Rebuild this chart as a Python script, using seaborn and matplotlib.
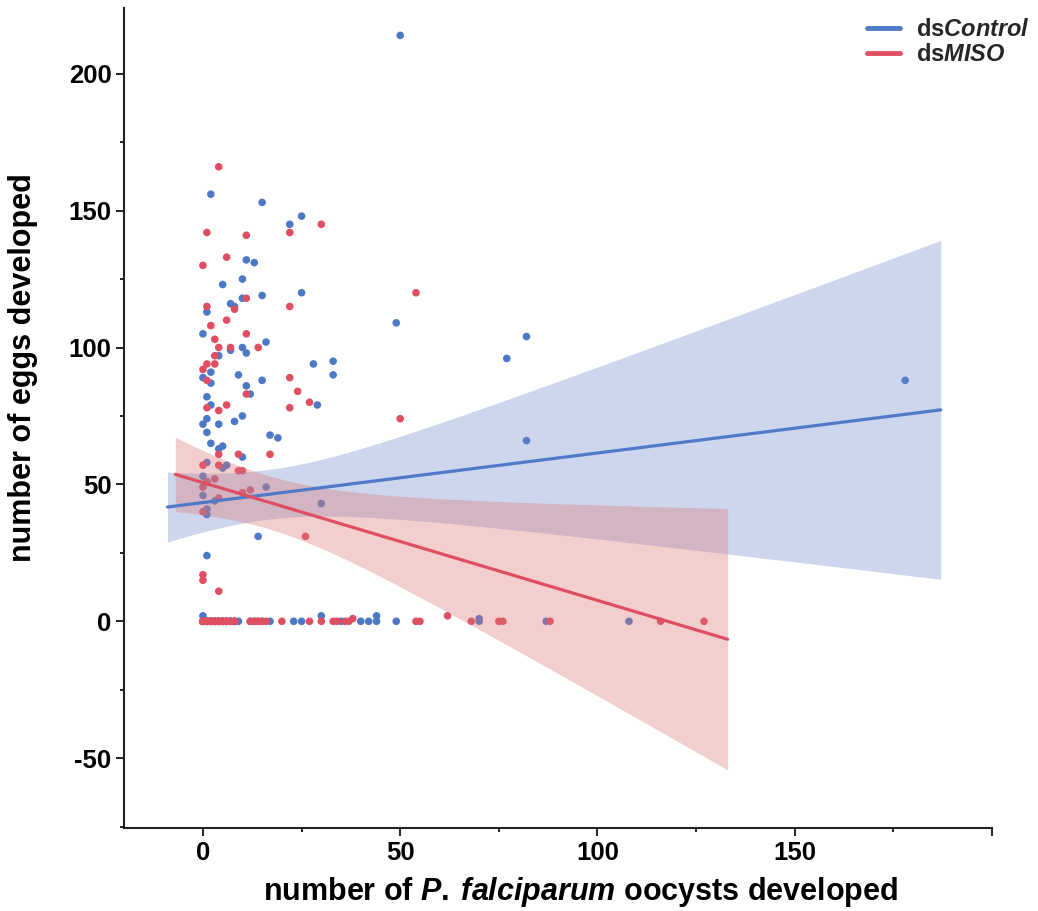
import numpy as np
import pandas as pd
import matplotlib
matplotlib.use("Agg")
import matplotlib.pyplot as plt
import seaborn as sns
from matplotlib.ticker import MultipleLocator
from matplotlib.lines import Line2D

# ---------------- data ----------------
groups = ["dsControl", "dsMISO"]

# dsControl: visible points, then the zero-egg points hidden under the red zero row
ctrl_x = [2, 15, 25, 22, 11, 13, 10, 5, 10, 15, 25, 7, 8, 1,
          0, 16, 7, 10, 11, 4, 2, 0, 2, 9, 15, 11, 12, 1, 2, 1, 0, 4, 8, 10,
          1, 17, 19, 2, 4, 5, 10, 1, 5, 6, 0, 1,
          0, 3, 16, 1, 1, 14, 1, 0,
          50, 49, 28, 33, 33, 29, 30, 82, 77, 82, 178,
          0, 0, 9, 17, 23, 25, 30, 35, 40, 42, 44, 44, 49, 70, 70, 87, 108,
          0, 0, 0, 0, 1, 1, 1, 1, 2, 2, 2, 2, 3, 3, 3, 3, 4, 4, 4, 4,
          5, 5, 5, 5, 6, 6, 6, 6, 7, 7, 7, 7, 8, 8, 8, 8, 12, 13, 14, 15]
ctrl_y = [156, 153, 148, 145, 132, 131, 125, 123, 118, 119, 120, 116, 115, 113,
          105, 102, 99, 100, 98, 97, 91, 89, 87, 90, 88, 86, 83, 82, 79, 74, 72, 72, 73, 75,
          69, 68, 67, 65, 63, 64, 60, 58, 56, 57, 53, 51,
          46, 44, 49, 41, 39, 31, 24, 2,
          214, 109, 94, 95, 90, 79, 43, 104, 96, 66, 88,
          0, 0, 0, 0, 0, 0, 2, 0, 0, 0, 2, 0, 0, 1, 0, 0, 0,
          0, 0, 0, 0, 0, 0, 0, 0, 0, 0, 0, 0, 0, 0, 0, 0, 0, 0, 0, 0,
          0, 0, 0, 0, 0, 0, 0, 0, 0, 0, 0, 0, 0, 0, 0, 0, 0, 0, 0, 0]

miso_x = [4, 22, 1, 11, 6, 0, 11, 1, 22, 8,
          2, 6, 11, 3, 4, 7, 14, 3, 1, 3, 0, 1, 11, 22, 24, 27, 22, 1, 4, 6,
          4, 9, 17, 0, 4, 9, 10, 3,
          0, 4, 10, 12, 0, 26, 0, 0, 4, 1,
          30, 54, 50,
          0, 0, 1, 1, 2, 3, 4, 5, 6, 7, 8, 12, 13, 14, 15, 16,
          20, 27, 30, 33, 34, 36, 37, 38, 54, 55, 62, 68, 75, 76, 88, 116, 127,
          0, 0, 1, 1, 2, 2, 3, 3, 4, 4, 5, 5, 6, 7, 8]
miso_y = [166, 142, 142, 141, 133, 130, 118, 115, 115, 114,
          108, 110, 105, 103, 100, 100, 100, 97, 94, 94, 92, 88, 83, 89, 84, 80, 78, 78, 77, 79,
          61, 61, 61, 57, 57, 55, 55, 52,
          49, 45, 47, 48, 40, 31, 17, 15, 11, 51,
          145, 120, 74,
          0, 0, 0, 0, 0, 0, 0, 0, 0, 0, 0, 0, 0, 0, 0, 0,
          0, 0, 0, 0, 0, 0, 0, 1, 0, 0, 2, 0, 0, 0, 0, 0, 0,
          0, 0, 0, 0, 0, 0, 0, 0, 0, 0, 0, 0, 0, 0, 0]

x_ticks = [0, 50, 100, 150, 200]
x_ticklabels = ["0", "50", "100", "150", ""]
y_ticks = [-50, 0, 50, 100, 150, 200]
y_ticklabels = ["-50", "0", "50", "100", "150", "200"]

# ---------------- style ----------------
point_colors = {"dsControl": "#4D78C6", "dsMISO": "#DE4F62"}
line_colors = {"dsControl": "#5079C8", "dsMISO": "#DE4F61"}
band_colors = {"dsControl": (0.44, 0.54, 0.79, 0.35), "dsMISO": (0.87, 0.46, 0.46, 0.35)}
fit_ranges = {"dsControl": (-9, 187), "dsMISO": (-7, 133)}
T95 = 1.98  # two-sided 95% t quantile for ~100 residual degrees of freedom

sns.set_theme(style="ticks")
plt.rcParams["font.family"] = ["Liberation Sans", "DejaVu Sans"]
plt.rcParams["font.weight"] = "bold"
plt.rcParams["axes.labelweight"] = "bold"
plt.rcParams["axes.unicode_minus"] = False
plt.rcParams["mathtext.fontset"] = "custom"
plt.rcParams["mathtext.rm"] = "Liberation Sans:bold"
plt.rcParams["mathtext.it"] = "Liberation Sans:italic:bold"
plt.rcParams["mathtext.bf"] = "Liberation Sans:bold"

df = pd.DataFrame({
    "x": ctrl_x + miso_x,
    "y": ctrl_y + miso_y,
    "group": [groups[0]] * len(ctrl_x) + [groups[1]] * len(miso_x),
})

fig = plt.figure(figsize=(10.38, 9.11), dpi=100)
ax = fig.add_axes([0.1195, 0.0911, 0.8362, 0.9001])

sns.scatterplot(data=df, x="x", y="y", hue="group", palette=point_colors,
                s=30, linewidth=0, legend=False, ax=ax, zorder=2)

for g in groups:
    sub = df[df.group == g]
    lo, hi = fit_ranges[g]
    ax.set_xlim(lo, hi)
    sns.regplot(data=sub, x="x", y="y", scatter=False, truncate=False, ci=None,
                color=line_colors[g], line_kws=dict(lw=2.3, zorder=4), ax=ax)
    # analytic 95% confidence band of the least-squares line
    xv = sub.x.to_numpy(float)
    yv = sub.y.to_numpy(float)
    slope, icpt = np.polyfit(xv, yv, 1)
    n = len(xv)
    s = np.sqrt(((yv - (icpt + slope * xv)) ** 2).sum() / (n - 2))
    sxx = ((xv - xv.mean()) ** 2).sum()
    grid = np.linspace(lo, hi, 200)
    fit = icpt + slope * grid
    se = s * np.sqrt(1.0 / n + (grid - xv.mean()) ** 2 / sxx)
    ax.fill_between(grid, fit - T95 * se, fit + T95 * se, color=band_colors[g],
                    linewidth=0, zorder=3)

ax.set_xlim(-20, 200)
ax.set_ylim(-75.5, 224)

ax.set_xticks(x_ticks)
ax.set_xticklabels(x_ticklabels)
ax.set_yticks(y_ticks)
ax.set_yticklabels(y_ticklabels)
ax.xaxis.set_minor_locator(MultipleLocator(25))
ax.yaxis.set_minor_locator(MultipleLocator(25))
ax.tick_params(which="major", direction="out", length=6, width=1.4, color="#222222",
               labelsize=18.5, labelcolor="black", pad=3)
ax.tick_params(which="minor", direction="out", length=3, width=1.4, color="#222222")
for lbl in ax.get_xticklabels() + ax.get_yticklabels():
    lbl.set_fontweight("bold")

sns.despine(ax=ax)
for sp in ["left", "bottom"]:
    ax.spines[sp].set_linewidth(1.5)
    ax.spines[sp].set_color("#222222")

ax.set_xlabel(r"number of $\mathit{P.\:falciparum}$ oocysts developed",
              fontsize=22, fontweight="bold", color="black")
ax.set_ylabel("number of eggs developed", fontsize=22, fontweight="bold", color="black")
ax.xaxis.set_label_coords(0.5265, -0.057)
ax.yaxis.set_label_coords(-0.099, 0.562)

handles = [Line2D([0], [0], color=line_colors[g], lw=3.5) for g in groups]
labels = [r"ds$\mathit{Control}$", r"ds$\mathit{MISO}$"]
fig.legend(handles, labels, loc="upper right", bbox_to_anchor=(0.995, 0.983),
           frameon=False, prop={"weight": "bold", "size": 17},
           handlelength=1.4, handletextpad=0.7, labelspacing=0.1, borderpad=0.1,
           borderaxespad=0)

fig.savefig("out.png", dpi=100)
